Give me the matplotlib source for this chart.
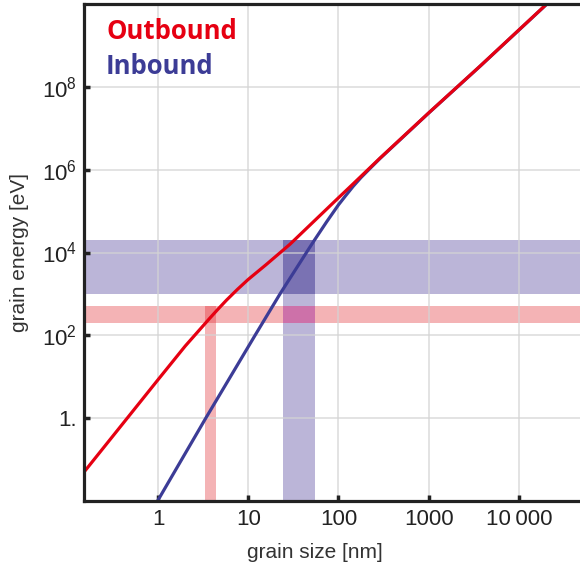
import matplotlib
matplotlib.use('Agg')
import matplotlib.pyplot as plt
from matplotlib.ticker import FixedLocator, FixedFormatter, NullLocator

plt.rcParams['font.family'] = ['Liberation Sans', 'DejaVu Sans']
plt.rcParams['mathtext.fontset'] = 'custom'
plt.rcParams['mathtext.rm'] = 'Liberation Sans'
plt.rcParams['mathtext.it'] = 'Liberation Sans:italic'

# grain size [nm] vs grain energy [eV]
outbound_size = [0.15, 1.0, 2.0, 3.77, 4.57, 5.75, 7.6, 10, 15.8, 29, 100, 146, 289, 1000, 3715, 20400]
outbound_energy = [0.049, 8.5, 55, 263, 417, 710, 1290, 2240, 5100, 15800, 209000, 457000,
                   1.9e6, 2.34e7, 3.16e8, 1e10]

inbound_size = [1.0, 3.38, 11.9, 22.5, 46.3, 54.3, 74, 100, 120, 146, 178, 224, 289, 1000, 3715, 20400]
inbound_energy = [0.0105, 1.0, 100, 1000, 11700, 20000, 55000, 141000, 234000, 398000,
                  646000, 1.07e6, 1.86e6, 2.32e7, 3.13e8, 9.9e9]

# highlighted ranges
outbound_size_band = (3.3, 4.4)
outbound_energy_band = (200, 500)
inbound_size_band = (24, 55)
inbound_energy_band = (1000, 20000)

x_ticks = [1, 10, 100, 1000, 10000]
x_labels = ['1', '10', '100', '1000', '10\u2009000']
y_ticks = [1, 1e2, 1e4, 1e6, 1e8]
y_labels = ['1.', r'$\mathregular{10^{2}}$', r'$\mathregular{10^{4}}$',
            r'$\mathregular{10^{6}}$', r'$\mathregular{10^{8}}$']

xlim = (0.151, 47700)
ylim = (0.01, 1e10)

red = '#e60012'
blue = '#3c3c96'
light_red = '#f4b3b5'
dark_red = '#ee8084'
light_blue = '#bbb5d8'
dark_blue = '#7a72b3'
pink = '#cd71a9'

fig = plt.figure(figsize=(5.8, 5.77), dpi=100)
ax = fig.add_axes([84 / 580, 76 / 577, 1 - 84 / 580, 497 / 577])
ax.set_xscale('log')
ax.set_yscale('log')
ax.set_xlim(*xlim)
ax.set_ylim(*ylim)

# horizontal bands
ax.fill_between(xlim, *inbound_energy_band, color=light_blue, lw=0, zorder=1)
ax.fill_between(xlim, *outbound_energy_band, color=light_red, lw=0, zorder=1)
# vertical outbound band
ax.fill_between(outbound_size_band, ylim[0], outbound_energy_band[1], color=light_red, lw=0, zorder=1.1)
ax.fill_between(outbound_size_band, *outbound_energy_band, color=dark_red, lw=0, zorder=1.2)
# vertical inbound band
ax.fill_between(inbound_size_band, ylim[0], inbound_energy_band[1], color=light_blue, lw=0, zorder=1.1)
ax.fill_between(inbound_size_band, *inbound_energy_band, color=dark_blue, lw=0, zorder=1.2)
ax.fill_between(inbound_size_band, *outbound_energy_band, color=pink, lw=0, zorder=1.2)

ax.grid(True, color='#d4d4d4', alpha=0.82, lw=1.1, zorder=1.5)
ax.set_axisbelow(False)

ax.plot(inbound_size, inbound_energy, color=blue, lw=2.3, zorder=3)
ax.plot(outbound_size, outbound_energy, color=red, lw=2.3, zorder=4)

ax.xaxis.set_major_locator(FixedLocator(x_ticks))
ax.xaxis.set_major_formatter(FixedFormatter(x_labels))
ax.xaxis.set_minor_locator(NullLocator())
ax.yaxis.set_major_locator(FixedLocator(y_ticks))
ax.yaxis.set_major_formatter(FixedFormatter(y_labels))
ax.yaxis.set_minor_locator(NullLocator())
ax.tick_params(direction='in', length=4, width=2.5, color='#222222',
               labelsize=16, labelcolor='#222222')
ax.tick_params(axis='x', pad=6)
ax.tick_params(axis='y', pad=5)

for side in ['left', 'bottom', 'top']:
    ax.spines[side].set_linewidth(2.3)
    ax.spines[side].set_color('#222222')
    ax.spines[side].set_zorder(5)
ax.spines['right'].set_visible(False)

fig.text(315 / 580, 1 - 552 / 577, 'grain size [nm]', ha='center', va='center',
         fontsize=15, color='#333333')
fig.text(20 / 580, 1 - 252 / 577, 'grain energy [eV]', ha='center', va='center',
         rotation=90, fontsize=15, color='#333333')

ax.text(106 / 580, 1 - 39 / 577, 'Outbound', transform=fig.transFigure,
        fontsize=18.5, fontweight='bold', family='Open Sans', color=red)
ax.text(106 / 580, 1 - 74 / 577, 'Inbound', transform=fig.transFigure,
        fontsize=18.5, fontweight='bold', family='Open Sans', color=blue)

fig.savefig('out.png', dpi=100)
